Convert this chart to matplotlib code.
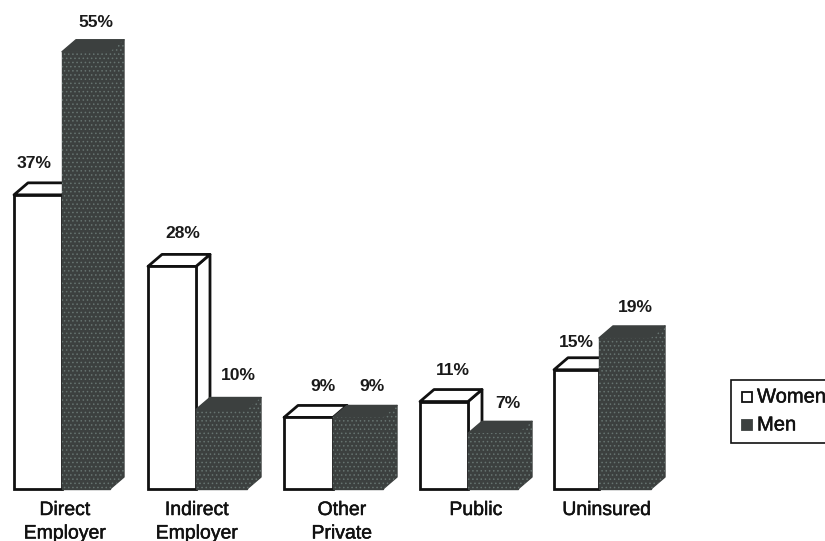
import matplotlib
matplotlib.use("Agg")
import matplotlib.pyplot as plt
import matplotlib.patheffects as pe
from matplotlib.patches import Polygon, Rectangle

plt.rcParams["font.family"] = ["Liberation Sans", "DejaVu Sans"]
plt.rcParams["hatch.linewidth"] = 0.6

# Dados
categorias = ["Direct\nEmployer", "Indirect\nEmployer", "Other\nPrivate", "Public", "Uninsured"]
mulheres = [37, 28, 9, 11, 15]
homens = [55, 10, 9, 7, 19]
rotulos_legenda = ["Women", "Men"]

# Layout, em pixels da imagem
LARGURA_PX = 825
ALTURA_PX = 541
BASE_PX = 489
PX_POR_PONTO = 7.95
x_mulheres = [14, 148, 284, 420, 554]
x_homens = [62, 196, 333, 468, 599]
larg_homens = [48, 51, 50, 50, 52]
x_categorias = [65, 197, 342, 476, 607]
prof_x = 14
prof_y = 12 / PX_POR_PONTO
# ajustes finos dos rotulos (centro x em px, deslocamento para baixo em px)
rot_x_mulheres = [34, 183, 323, 453, 576]
rot_x_homens = [96, 238, 372, 508, 635]
nudge_y_mulheres = [0, -2, 0, 0, 4]
nudge_y_homens = [2, -3, 0, 1, 1]

ESCURO = "#3c403f"
PONTOS = "#667370"
LINHA = "#111111"
REFORCO = [pe.withStroke(linewidth=0.35, foreground="#111111")]

fig = plt.figure(figsize=(LARGURA_PX / 100, ALTURA_PX / 100), dpi=100)
ax = fig.add_axes([0, 0, 1, 1])
ax.set_xlim(0, LARGURA_PX)
ax.set_ylim(-(ALTURA_PX - BASE_PX) / PX_POR_PONTO, BASE_PX / PX_POR_PONTO)
ax.axis("off")


def desenha_barra(x, largura, valor, cor, hachura, cor_linha, lw, z):
    # faces lateral e superior
    lado = [(x + largura, 0), (x + largura + prof_x, prof_y),
            (x + largura + prof_x, valor + prof_y), (x + largura, valor)]
    topo = [(x, valor), (x + prof_x, valor + prof_y),
            (x + largura + prof_x, valor + prof_y), (x + largura, valor)]
    for pts in (lado, topo):
        ax.add_patch(Polygon(pts, closed=True, facecolor=cor, edgecolor=cor_linha,
                             linewidth=lw, joinstyle="round", zorder=z))
    ax.bar(x, valor, largura, align="edge", color=cor, edgecolor=cor_linha,
           linewidth=lw, zorder=z + 0.2)
    if hachura:
        ax.add_patch(Polygon(lado, closed=True, facecolor="none", edgecolor=PONTOS,
                             linewidth=0, hatch=hachura, zorder=z + 0.3))
        ax.bar(x, valor, largura, align="edge", color="none", edgecolor=PONTOS,
               linewidth=0, hatch=hachura, zorder=z + 0.3)


for i, cat in enumerate(categorias):
    desenha_barra(x_mulheres[i], x_homens[i] - x_mulheres[i], mulheres[i],
                  "white", None, LINHA, 2.0, 2)
    desenha_barra(x_homens[i], larg_homens[i], homens[i],
                  ESCURO, "....", ESCURO, 1.0, 3)
    # rotulos de percentual
    ax.text(rot_x_mulheres[i], mulheres[i] + prof_y + (19 - nudge_y_mulheres[i]) / PX_POR_PONTO,
            f"{mulheres[i]}%", ha="center", va="center", fontsize=12.6,
            fontweight="bold", color="#1a1a1a", zorder=6)
    ax.text(rot_x_homens[i], homens[i] + prof_y + (19 - nudge_y_homens[i]) / PX_POR_PONTO,
            f"{homens[i]}%", ha="center", va="center", fontsize=12.6,
            fontweight="bold", color="#1a1a1a", zorder=6)
    # categoria
    ax.text(x_categorias[i], -13 / PX_POR_PONTO, cat, ha="center", va="top",
            fontsize=14, color="#111111", linespacing=1.5, zorder=6, path_effects=REFORCO)

# Legenda
ax.add_patch(Rectangle((731, (BASE_PX - 443) / PX_POR_PONTO), 110, 63 / PX_POR_PONTO,
                       facecolor="white", edgecolor=LINHA, linewidth=1.2, zorder=7))
cores_legenda = ["white", ESCURO]
y_legenda = [(BASE_PX - 397) / PX_POR_PONTO, (BASE_PX - 425) / PX_POR_PONTO]
for rotulo, cor, yl in zip(rotulos_legenda, cores_legenda, y_legenda):
    ax.add_patch(Rectangle((742, yl - 5 / PX_POR_PONTO), 10, 10 / PX_POR_PONTO, facecolor=cor,
                           edgecolor=LINHA if cor == "white" else ESCURO, linewidth=1.3, zorder=8))
    ax.text(757, yl, rotulo, ha="left", va="center", fontsize=14.5, color="#111111", zorder=8,
            path_effects=REFORCO)

fig.savefig("out.png", dpi=100, facecolor="white")
